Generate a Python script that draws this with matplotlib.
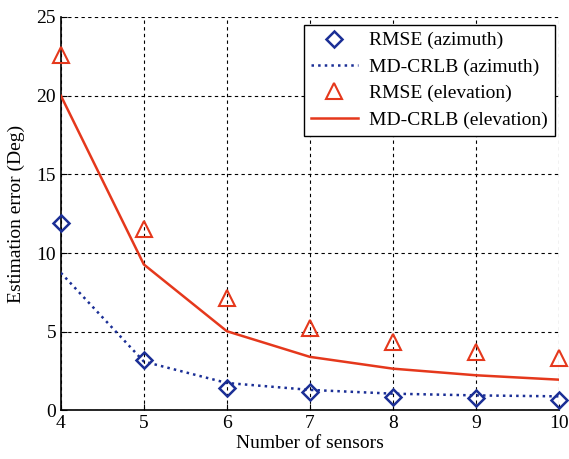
import matplotlib.pyplot as plt
import numpy as np

plt.rcParams['font.family'] = ['Liberation Serif', 'DejaVu Serif']

# Data
sensors = [4, 5, 6, 7, 8, 9, 10]
rmse_azimuth = [11.9, 3.18, 1.4, 1.17, 0.85, 0.76, 0.68]
crlb_azimuth = [8.74, 3.1, 1.74, 1.3, 1.06, 0.95, 0.89]
rmse_elevation = [22.6, 11.5, 7.15, 5.24, 4.33, 3.73, 3.33]
crlb_elevation = [20.0, 9.27, 5.03, 3.4, 2.65, 2.23, 1.95]

blue = '#1b2f96'
red = '#e5381c'

fig = plt.figure(figsize=(5.69, 4.59), dpi=100)
ax = fig.add_axes([0.107, 0.106, 0.875, 0.857])

ax.plot(sensors, rmse_azimuth, linestyle='none', marker='D', markersize=8,
        markerfacecolor='none', markeredgecolor=blue, markeredgewidth=1.8,
        label='RMSE (azimuth)', zorder=4, clip_on=False)
ax.plot(sensors, crlb_azimuth, linestyle=':', color=blue, linewidth=1.8,
        label='MD-CRLB (azimuth)', zorder=3)
ax.plot(sensors, rmse_elevation, linestyle='none', marker='^', markersize=11,
        markerfacecolor='none', markeredgecolor=red, markeredgewidth=1.5,
        label='RMSE (elevation)', zorder=4, clip_on=False)
ax.plot(sensors, crlb_elevation, linestyle='-', color=red, linewidth=1.8,
        label='MD-CRLB (elevation)', zorder=3)

ax.set_xlim(4, 10)
ax.set_ylim(0, 25)
ax.set_xticks(sensors)
ax.set_yticks([0, 5, 10, 15, 20, 25])
ax.grid(True, color='black', linestyle=(0, (3, 3)), linewidth=0.8)
ax.tick_params(direction='in', labelsize=14, length=4)

for s in ['top', 'right']:
    ax.spines[s].set_visible(False)
for s in ['left', 'bottom']:
    ax.spines[s].set_linewidth(1.2)

ax.set_xlabel('Number of sensors', fontsize=14, labelpad=2)
ax.set_ylabel('Estimation error (Deg)', fontsize=14, labelpad=8)

leg = ax.legend(loc='upper right', bbox_to_anchor=(555 / 569, 1 - 25 / 459),
                bbox_transform=fig.transFigure, fontsize=14, fancybox=False,
                framealpha=1, edgecolor='black', borderaxespad=0,
                handlelength=2.4, labelspacing=0.45, borderpad=0.35,
                handletextpad=0.6)
leg.get_frame().set_linewidth(1.0)

fig.savefig('out.png', dpi=100)
